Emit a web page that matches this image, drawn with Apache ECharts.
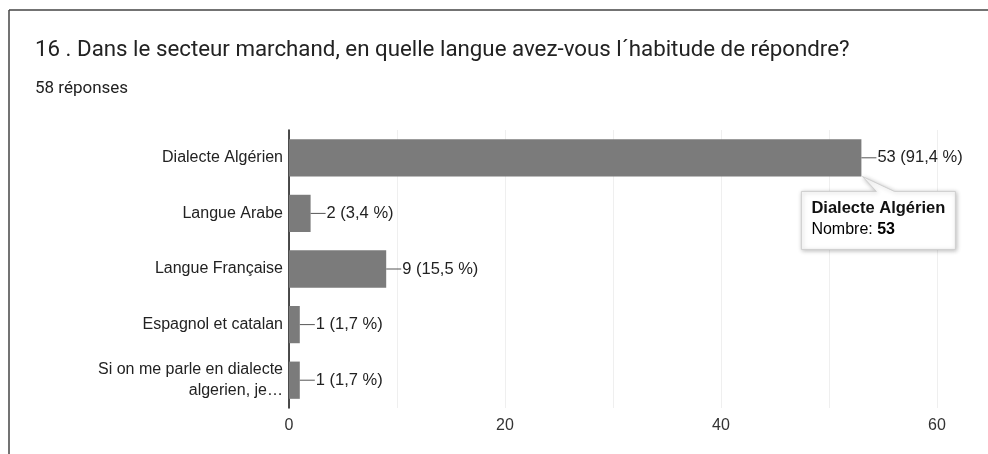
<!DOCTYPE html>
<html><head><meta charset="utf-8">
<script src="https://cdn.jsdelivr.net/npm/echarts@6/dist/echarts.min.js"></script>
<style>html,body{margin:0;padding:0;background:#fff;}#c{width:988px;height:454px;}</style>
</head><body><div id="c"></div>
<script>
const titleText = "16 . Dans le secteur marchand, en quelle langue avez-vous l´habitude de répondre?";
const subtitleText = "58 réponses";
const categories = ["Dialecte Algérien", "Langue Arabe", "Langue Française", "Espagnol et catalan", "Si on me parle en dialecte\nalgerien, je…"];
const counts = [53, 2, 9, 1, 1];
const percents = ["91,4", "3,4", "15,5", "1,7", "1,7"];
const xTicks = [0, 20, 40, 60];
const tooltipCategory = "Dialecte Algérien";
const tooltipLabel = "Nombre";

const chart = echarts.init(document.getElementById('c'));
const LBL = '"Liberation Sans", Arial, sans-serif';
chart.setOption({
  animation: false,
  backgroundColor: '#fff',
  title: [
    {text: titleText, left: 30, top: 34, textStyle: {fontFamily: 'Roboto, sans-serif', fontSize: 22.3, fontWeight: 'normal', color: '#222'}},
    {text: subtitleText, left: 30, top: 75, textStyle: {fontFamily: 'Roboto, sans-serif', fontSize: 17, fontWeight: 'normal', color: '#222'}}
  ],
  grid: {left: 289, right: 51, top: 130, bottom: 46, containLabel: false},
  xAxis: {
    type: 'value', min: 0, max: 60, interval: 10,
    axisLine: {show: false}, axisTick: {show: false},
    splitLine: {show: true, lineStyle: {color: '#efefef', width: 1}},
    axisLabel: {
      fontFamily: LBL, fontSize: 16, color: '#333', margin: 10,
      formatter: v => xTicks.indexOf(v) >= 0 ? String(v) : ''
    }
  },
  yAxis: {
    type: 'category', data: categories, inverse: true,
    axisLine: {show: true, lineStyle: {color: '#111', width: 1.5}},
    axisTick: {show: false},
    axisLabel: {fontFamily: LBL, fontSize: 16, color: '#222', margin: 6, lineHeight: 21, align: 'right'}
  },
  series: [{
    type: 'bar', data: counts, barCategoryGap: '33%',
    itemStyle: {color: '#7b7b7b'},
    label: {
      show: true, position: 'right', distance: 0,
      formatter: p => '{l|}{t|' + p.value + ' (' + percents[p.dataIndex] + ' %)}',
      rich: {
        l: {width: 15, height: 1, backgroundColor: '#555'},
        t: {fontFamily: LBL, fontSize: 16.5, color: '#222', padding: [0, 0, 0, 1]}
      }
    }
  }]
});

function drawCallout() {
  const idx = 0;
  const end = chart.convertToPixel({seriesIndex: 0}, [counts[idx], idx]);
  const band = chart.getModel().getComponent('yAxis', 0).axis.getBandWidth();
  const barH = band * 0.67;
  const ax = end[0] + 1, ay = end[1] + barH / 2;
  const bx = ax - 61, by = ay + 15, bw = 154, bh = 58;
  const pts = [[bx, by], [ax + 14, by], [ax, ay], [ax + 32, by], [bx + bw, by], [bx + bw, by + bh], [bx, by + bh]];
  chart.setOption({graphic: [
    {type: 'line', shape: {x1: 9, y1: 10, x2: 988, y2: 10}, style: {stroke: '#444', lineWidth: 1.5}, z: 10},
    {type: 'line', shape: {x1: 9, y1: 10, x2: 9, y2: 454}, style: {stroke: '#444', lineWidth: 1.5}, z: 10},
    {type: 'polygon', shape: {points: pts}, style: {fill: '#fff', stroke: '#cfcfcf', lineWidth: 1, shadowBlur: 4, shadowColor: 'rgba(0,0,0,0.25)', shadowOffsetX: 1, shadowOffsetY: 1}, z: 20},
    {type: 'text', x: bx + 10, y: by + 9, style: {text: tooltipCategory, fontFamily: LBL, fontSize: 16.5, fontWeight: 'bold', fill: '#111'}, z: 21},
    {type: 'text', x: bx + 10, y: by + 30, style: {text: '{n|' + tooltipLabel + ': }{b|' + counts[idx] + '}', rich: {n: {fontFamily: LBL, fontSize: 16, color: '#111'}, b: {fontFamily: LBL, fontSize: 16, fontWeight: 'bold', color: '#111'}}}, z: 21}
  ]});
}
drawCallout();
</script></body></html>
